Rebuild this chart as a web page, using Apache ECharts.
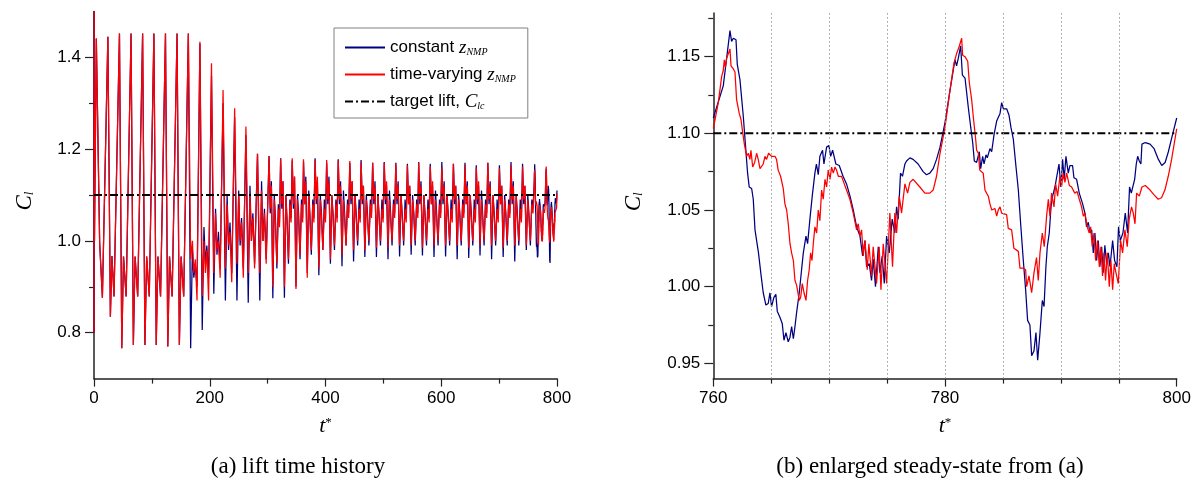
<!DOCTYPE html>
<html>
<head>
<meta charset="utf-8">
<script src="https://cdn.jsdelivr.net/npm/echarts@6.0.0/dist/echarts.min.js"></script>
<style>
  html, body { margin: 0; padding: 0; background: #fff; }
  #chart { width: 1195px; height: 485px; }
</style>
</head>
<body>
<div id="chart"></div>
<script>
// ---- data ----

// t* < 160: both runs are identical
const sharedT = [
  0, 0.2, 0.8, 4, 9.8, 14.5,
  24, 28.3, 31, 34.6,
  44, 48, 51, 55.5,
  64, 68, 71, 75.5,
  84, 88, 91, 95.5,
  103.5, 107.5, 110.5, 115,
  123.5, 127.5, 130.5, 135,
  143.5, 147.5, 150.5, 155
]
const sharedCl = [
  0.80, 1.50, 1.00, 1.441, 0.995, 0.876,
  1.445, 0.835, 0.967, 0.879,
  1.452, 0.766, 0.966, 0.879,
  1.452, 0.773, 0.966, 0.879,
  1.452, 0.773, 0.966, 0.879,
  1.452, 0.773, 0.966, 0.879,
  1.452, 0.770, 0.966, 0.879,
  1.452, 0.773, 0.966, 0.879
]

// t* 163 .. 758.5: runs diverge
const splitT = [
  163, 167, 170, 172.5, 175, 178,
  183, 187, 190, 192.5, 195, 198,
  203, 207, 210, 212.5, 215, 218,
  223, 227, 230, 232.5, 235, 238,
  243, 247, 250, 252.5, 255, 258,
  262.5, 266.5, 269.5, 272, 274.5, 277.5,
  282.5, 286.5, 289.5, 292, 294.5, 297.5,
  302.5, 304.5, 306.5, 309, 311.5, 313.5, 316, 318.5, 320.5,
  322.5, 324.5, 326.5, 329, 331.5, 333.5, 336, 338.5, 340.5,
  342.5, 344.5, 346.5, 349, 351.5, 353.5, 356, 358.5, 360.5,
  362, 364, 366, 368.5, 371, 373, 375.5, 378, 380,
  382, 384, 386, 388.5, 391, 393, 395.5, 398, 400,
  402, 404, 406, 408.5, 411, 413, 415.5, 418, 420,
  422, 424, 426, 428.5, 431, 433, 435.5, 438, 440,
  442, 444, 446, 448.5, 451, 453, 455.5, 458, 460,
  461.5, 463.5, 465.5, 468, 470.5, 472.5, 475, 477.5, 479.5,
  481.5, 483.5, 485.5, 488, 490.5, 492.5, 495, 497.5, 499.5,
  501.5, 503.5, 505.5, 508, 510.5, 512.5, 515, 517.5, 519.5,
  521.5, 523.5, 525.5, 528, 530.5, 532.5, 535, 537.5, 539.5,
  541.5, 543.5, 545.5, 548, 550.5, 552.5, 555, 557.5, 559.5,
  561, 563, 565, 567.5, 570, 572, 574.5, 577, 579,
  581, 583, 585, 587.5, 590, 592, 594.5, 597, 599,
  601, 603, 605, 607.5, 610, 612, 614.5, 617, 619,
  621, 623, 625, 627.5, 630, 632, 634.5, 637, 639,
  641, 643, 645, 647.5, 650, 652, 654.5, 657, 659,
  660.5, 662.5, 664.5, 667, 669.5, 671.5, 674, 676.5, 678.5,
  680.5, 682.5, 684.5, 687, 689.5, 691.5, 694, 696.5, 698.5,
  700.5, 702.5, 704.5, 707, 709.5, 711.5, 714, 716.5, 718.5,
  720.5, 722.5, 724.5, 727, 729.5, 731.5, 734, 736.5, 738.5,
  740.5, 742.5, 744.5, 747, 749.5, 751.5, 754, 756.5, 758.5
]
const varyingCl = [
  1.452, 0.96, 1.00, 0.93, 0.96, 0.87,
  1.434, 0.88, 1.00, 0.93, 0.98, 0.87,
  1.387, 0.93, 1.06, 0.98, 1.00, 0.92,
  1.329, 0.94, 1.08, 0.99, 1.02, 0.91,
  1.289, 0.95, 1.10, 1.00, 1.04, 0.92,
  1.249, 0.93, 1.10, 1.00, 1.05, 0.94,
  1.190, 0.93, 1.11, 1.00, 1.06, 0.95,
  1.185, 1.07, 1.12, 0.90, 1.09, 1.04, 0.95, 1.07, 1.03,
  1.180, 1.08, 1.13, 0.90, 1.10, 1.04, 0.96, 1.08, 1.04,
  1.180, 1.08, 1.14, 0.895, 1.09, 1.05, 0.97, 1.08, 1.04,
  1.178, 1.08, 1.13, 0.92, 1.10, 1.05, 0.98, 1.08, 1.04,
  1.176, 1.09, 1.14, 0.94, 1.09, 1.05, 0.98, 1.07, 1.04,
  1.176, 1.09, 1.13, 0.96, 1.10, 1.05, 0.99, 1.08, 1.04,
  1.175, 1.09, 1.12, 0.97, 1.09, 1.05, 0.99, 1.08, 1.05,
  1.174, 1.09, 1.13, 0.98, 1.10, 1.05, 1.00, 1.07, 1.04,
  1.172, 1.09, 1.12, 0.98, 1.09, 1.05, 1.00, 1.08, 1.05,
  1.170, 1.09, 1.12, 0.985, 1.10, 1.05, 1.00, 1.07, 1.04,
  1.170, 1.09, 1.13, 0.985, 1.09, 1.05, 1.00, 1.08, 1.05,
  1.168, 1.09, 1.12, 0.99, 1.10, 1.05, 1.00, 1.07, 1.04,
  1.165, 1.08, 1.12, 0.99, 1.09, 1.06, 1.00, 1.08, 1.05,
  1.170, 1.09, 1.12, 0.985, 1.10, 1.05, 1.00, 1.07, 1.04,
  1.163, 1.08, 1.13, 0.99, 1.09, 1.05, 1.00, 1.08, 1.05,
  1.160, 1.09, 1.12, 0.99, 1.10, 1.05, 1.00, 1.07, 1.04,
  1.168, 1.09, 1.12, 0.99, 1.09, 1.06, 1.00, 1.08, 1.05,
  1.165, 1.08, 1.12, 0.985, 1.10, 1.05, 1.00, 1.07, 1.04,
  1.160, 1.09, 1.13, 0.99, 1.09, 1.05, 1.00, 1.08, 1.05,
  1.170, 1.09, 1.12, 0.99, 1.10, 1.05, 1.00, 1.07, 1.04,
  1.158, 1.08, 1.12, 0.985, 1.09, 1.06, 1.00, 1.08, 1.05,
  1.165, 1.09, 1.12, 0.99, 1.10, 1.05, 1.00, 1.07, 1.04,
  1.162, 1.09, 1.12, 0.99, 1.09, 1.05, 1.00, 1.08, 1.06
]
const constantCl = [
  1.452, 0.766, 0.98, 0.92, 0.95, 0.90,
  1.430, 0.806, 1.03, 0.95, 0.99, 0.92,
  1.360, 0.885, 1.07, 0.97, 1.02, 0.94,
  1.300, 0.870, 1.10, 0.98, 1.04, 0.93,
  1.270, 0.870, 1.11, 0.99, 1.05, 0.94,
  1.230, 0.865, 1.12, 1.00, 1.06, 0.95,
  1.190, 0.870, 1.13, 1.00, 1.07, 0.96,
  1.185, 1.06, 1.13, 0.875, 1.10, 1.05, 0.94, 1.08, 1.04,
  1.180, 1.07, 1.13, 0.876, 1.10, 1.05, 0.95, 1.09, 1.05,
  1.175, 1.07, 1.14, 0.90, 1.10, 1.06, 0.96, 1.09, 1.05,
  1.172, 1.08, 1.14, 0.93, 1.11, 1.06, 0.97, 1.09, 1.05,
  1.180, 1.08, 1.13, 0.925, 1.10, 1.06, 0.98, 1.09, 1.05,
  1.170, 1.08, 1.14, 0.95, 1.10, 1.06, 0.98, 1.09, 1.05,
  1.178, 1.08, 1.13, 0.945, 1.11, 1.06, 0.99, 1.09, 1.06,
  1.170, 1.08, 1.13, 0.955, 1.10, 1.06, 0.99, 1.09, 1.05,
  1.176, 1.08, 1.12, 0.965, 1.10, 1.06, 0.99, 1.09, 1.06,
  1.170, 1.08, 1.13, 0.965, 1.10, 1.06, 0.99, 1.09, 1.05,
  1.172, 1.08, 1.12, 0.96, 1.11, 1.06, 0.99, 1.09, 1.06,
  1.170, 1.08, 1.13, 0.966, 1.10, 1.06, 0.99, 1.09, 1.05,
  1.168, 1.08, 1.12, 0.97, 1.10, 1.06, 0.99, 1.09, 1.06,
  1.172, 1.08, 1.13, 0.968, 1.10, 1.06, 0.99, 1.09, 1.05,
  1.168, 1.08, 1.12, 0.965, 1.11, 1.06, 0.99, 1.09, 1.06,
  1.172, 1.08, 1.13, 0.966, 1.10, 1.06, 0.99, 1.09, 1.05,
  1.168, 1.08, 1.12, 0.96, 1.10, 1.06, 0.99, 1.09, 1.06,
  1.170, 1.08, 1.13, 0.963, 1.10, 1.06, 0.99, 1.09, 1.05,
  1.165, 1.08, 1.12, 0.968, 1.11, 1.06, 0.99, 1.09, 1.06,
  1.170, 1.08, 1.13, 0.96, 1.10, 1.06, 0.99, 1.09, 1.05,
  1.165, 1.08, 1.12, 0.965, 1.10, 1.06, 0.99, 1.09, 1.06,
  1.172, 1.08, 1.13, 0.955, 1.10, 1.06, 0.99, 1.09, 1.05,
  1.168, 1.08, 1.12, 0.98, 1.10, 1.06, 0.99, 1.09, 1.07
]

// t* 760 .. 800 (panel b, also the tail of panel a)
const zoomConstant = [
  [760, 1.110], [760.86, 1.131], [761.44, 1.167], [761.58, 1.160], [761.73, 1.162], [761.96, 1.161],
  [762.07, 1.145], [762.3, 1.135], [762.59, 1.111], [762.79, 1.091], [762.96, 1.074], [763.1, 1.065],
  [763.31, 1.064], [763.45, 1.057], [763.6, 1.037], [763.9, 1.022], [764.13, 1.007], [764.31, 0.996],
  [764.54, 0.988], [764.74, 0.989], [764.89, 0.996], [765.03, 0.987], [765.23, 0.993], [765.4, 0.995],
  [765.52, 0.984], [765.75, 0.980], [765.95, 0.976], [766.1, 0.965], [766.27, 0.970], [766.47, 0.964],
  [766.62, 0.967], [766.76, 0.974], [766.91, 0.966], [767.05, 0.974], [767.19, 0.983], [767.42, 0.996],
  [767.62, 1.011], [767.77, 1.022], [768.0, 1.033], [768.14, 1.028], [768.34, 1.044], [768.54, 1.059],
  [768.77, 1.074], [768.9, 1.080], [769.06, 1.073], [769.2, 1.085], [769.43, 1.089], [769.55, 1.080],
  [769.78, 1.091], [769.98, 1.092], [770.13, 1.085], [770.3, 1.089], [770.44, 1.088], [770.58, 1.080],
  [770.7, 1.080], [770.87, 1.079], [771.0, 1.078], [771.2, 1.072], [771.5, 1.067], [771.8, 1.059],
  [772.08, 1.050], [772.37, 1.039], [772.66, 1.033], [772.89, 1.020], [773.09, 1.030], [773.23, 1.013],
  [773.46, 1.015], [773.66, 1.004], [773.8, 1.018], [774.0, 1.000], [774.24, 1.026], [774.38, 1.009],
  [774.58, 1.020], [774.76, 1.002], [774.96, 1.033], [775.19, 1.022], [775.44, 1.044], [775.67, 1.035],
  [775.82, 1.052], [775.96, 1.044], [776.16, 1.074], [776.33, 1.072], [776.54, 1.080], [776.68, 1.082],
  [776.97, 1.084], [777.25, 1.083], [777.68, 1.080], [778.11, 1.075], [778.4, 1.073], [778.69, 1.074],
  [778.98, 1.077], [779.27, 1.083], [779.57, 1.091], [780.0, 1.107], [780.43, 1.128], [780.86, 1.148],
  [781.0, 1.144], [781.15, 1.149], [781.35, 1.157], [781.5, 1.138], [781.73, 1.136], [782.01, 1.117],
  [782.22, 1.104], [782.39, 1.094], [782.53, 1.082], [782.73, 1.081], [782.96, 1.088], [783.08, 1.077],
  [783.25, 1.085], [783.37, 1.080], [783.54, 1.086], [783.65, 1.084], [783.88, 1.090], [784.03, 1.088],
  [784.23, 1.099], [784.46, 1.108], [784.75, 1.113], [784.89, 1.120], [785.04, 1.116], [785.32, 1.116],
  [785.52, 1.112], [785.69, 1.104], [785.9, 1.096], [786.13, 1.078], [786.33, 1.063], [786.53, 1.041],
  [786.76, 1.017], [786.96, 0.998], [787.13, 0.978], [787.33, 0.975], [787.48, 0.955], [787.68, 0.958],
  [787.85, 0.970], [788.0, 0.952], [788.2, 0.970], [788.4, 0.991], [788.55, 0.987], [788.71, 1.013],
  [788.83, 1.026], [789.0, 1.035], [789.15, 1.052], [789.29, 1.059], [789.49, 1.065], [789.7, 1.074],
  [789.84, 1.080], [790.0, 1.065], [790.15, 1.083], [790.29, 1.070], [790.44, 1.085], [790.64, 1.074],
  [790.78, 1.079], [791.01, 1.079], [791.13, 1.071], [791.36, 1.070], [791.59, 1.061], [791.88, 1.054],
  [792.08, 1.048], [792.22, 1.039], [792.37, 1.042], [792.51, 1.035], [792.66, 1.037], [792.8, 1.022],
  [792.94, 1.035], [793.09, 1.017], [793.23, 1.030], [793.37, 1.013], [793.52, 1.026], [793.66, 1.009],
  [793.8, 1.027], [793.95, 1.015], [794.1, 1.022], [794.24, 1.013], [794.47, 1.030], [794.64, 1.017],
  [794.84, 1.013], [794.98, 1.039], [795.13, 1.030], [795.36, 1.035], [795.56, 1.048], [795.76, 1.035],
  [795.93, 1.065], [796.08, 1.061], [796.22, 1.061], [796.37, 1.070], [796.51, 1.080], [796.63, 1.085],
  [796.77, 1.082], [796.91, 1.080], [797.0, 1.093], [797.29, 1.094], [797.7, 1.093], [798.05, 1.090],
  [798.42, 1.083], [798.71, 1.079], [799.0, 1.081], [799.28, 1.088], [799.57, 1.097], [800.0, 1.110]
]
const zoomVarying = [
  [760.0, 1.103], [760.43, 1.120], [760.72, 1.137], [760.86, 1.141], [760.95, 1.148], [761.04, 1.143],
  [761.15, 1.149], [761.3, 1.152], [761.44, 1.155], [761.53, 1.144], [761.73, 1.142], [761.87, 1.140],
  [762.01, 1.122], [762.24, 1.113], [762.39, 1.109], [762.53, 1.101], [762.68, 1.093], [762.79, 1.092],
  [762.88, 1.085], [763.02, 1.087], [763.16, 1.083], [763.25, 1.089], [763.4, 1.078], [763.57, 1.081],
  [763.74, 1.087], [763.88, 1.083], [764.03, 1.077], [764.17, 1.077], [764.31, 1.080], [764.46, 1.085],
  [764.6, 1.083], [764.77, 1.087], [764.89, 1.087], [765.03, 1.085], [765.32, 1.085], [765.46, 1.083],
  [765.6, 1.076], [765.81, 1.072], [766.04, 1.064], [766.18, 1.054], [766.33, 1.050], [766.47, 1.041],
  [766.62, 1.028], [766.76, 1.022], [766.91, 1.017], [767.05, 1.004], [767.19, 1.001], [767.33, 1.002],
  [767.42, 0.991], [767.54, 0.993], [767.68, 1.002], [767.83, 0.996], [768.0, 0.991], [768.14, 1.004],
  [768.28, 1.011], [768.4, 1.022], [768.52, 1.017], [768.63, 1.028], [768.77, 1.039], [768.92, 1.035],
  [769.06, 1.050], [769.2, 1.043], [769.35, 1.063], [769.49, 1.057], [769.64, 1.070], [769.78, 1.065],
  [769.92, 1.076], [770.07, 1.070], [770.21, 1.078], [770.36, 1.074], [770.5, 1.078], [770.64, 1.076],
  [770.79, 1.072], [770.93, 1.073], [771.07, 1.072], [771.21, 1.069], [771.5, 1.063], [771.79, 1.057],
  [772.08, 1.048], [772.37, 1.037], [772.51, 1.041], [772.66, 1.033], [772.8, 1.037], [772.94, 1.020],
  [773.09, 1.030], [773.29, 1.011], [773.43, 1.028], [773.66, 1.007], [773.8, 1.026], [774.09, 1.002],
  [774.32, 1.026], [774.47, 0.998], [774.67, 1.028], [774.96, 1.002], [775.24, 1.048], [775.47, 1.013],
  [775.67, 1.048], [775.82, 1.035], [776.05, 1.059], [776.25, 1.048], [776.54, 1.067], [776.77, 1.061],
  [776.97, 1.068], [777.25, 1.070], [777.83, 1.065], [778.26, 1.061], [778.69, 1.061], [778.98, 1.063],
  [779.27, 1.072], [779.57, 1.087], [780.0, 1.104], [780.43, 1.128], [780.78, 1.146], [781.0, 1.152],
  [781.24, 1.157], [781.44, 1.162], [781.52, 1.151], [781.73, 1.150], [781.96, 1.147], [782.1, 1.133],
  [782.3, 1.122], [782.44, 1.111], [782.65, 1.096], [782.73, 1.089], [782.88, 1.087], [783.0, 1.076],
  [783.16, 1.075], [783.3, 1.074], [783.45, 1.063], [783.59, 1.061], [783.74, 1.059], [783.88, 1.054],
  [784.03, 1.050], [784.17, 1.050], [784.31, 1.051], [784.46, 1.046], [784.6, 1.050], [784.75, 1.052],
  [784.89, 1.048], [785.04, 1.047], [785.32, 1.047], [785.46, 1.038], [785.75, 1.037], [785.95, 1.025],
  [786.33, 1.023], [786.47, 1.012], [786.76, 1.012], [786.96, 1.011], [787.05, 1.000], [787.25, 1.007],
  [787.48, 0.996], [787.68, 1.009], [787.9, 1.019], [788.05, 1.004], [788.2, 1.022], [788.4, 1.035],
  [788.57, 1.026], [788.77, 1.046], [788.92, 1.057], [789.06, 1.046], [789.2, 1.061], [789.41, 1.052],
  [789.55, 1.067], [789.72, 1.059], [789.92, 1.072], [790.06, 1.065], [790.2, 1.074], [790.35, 1.068],
  [790.5, 1.074], [790.73, 1.066], [790.93, 1.065], [791.2, 1.061], [791.41, 1.062], [791.59, 1.057],
  [791.79, 1.052], [791.94, 1.046], [792.08, 1.048], [792.28, 1.039], [792.45, 1.035], [792.57, 1.039],
  [792.71, 1.026], [792.86, 1.035], [793.0, 1.017], [793.17, 1.030], [793.32, 1.013], [793.46, 1.026],
  [793.6, 1.007], [793.72, 1.022], [793.86, 1.004], [794.01, 1.022], [794.18, 1.000], [794.32, 1.017],
  [794.47, 0.998], [794.61, 1.015], [794.76, 1.009], [794.96, 1.002], [795.16, 1.030], [795.33, 1.022],
  [795.53, 1.037], [795.73, 1.026], [795.9, 1.044], [796.1, 1.052], [796.25, 1.048], [796.4, 1.041],
  [796.54, 1.061], [796.77, 1.059], [797.0, 1.065], [797.29, 1.066], [797.7, 1.063], [798.03, 1.060],
  [798.4, 1.057], [798.69, 1.058], [798.98, 1.063], [799.27, 1.072], [799.56, 1.083], [800.0, 1.103]
]

const TARGET = 1.1
const GRID_T = [765, 770, 775, 780, 785, 790, 795]          // dotted verticals in (b)
const LEFT_Y_MAJOR = [0.8, 1.0, 1.2, 1.4]
const LEFT_Y_MINOR = [0.9, 1.1, 1.3]
const RIGHT_Y_MAJOR = [0.95, 1.00, 1.05, 1.10, 1.15]
const RIGHT_Y_MINOR = [0.975, 1.025, 1.075, 1.125, 1.175]

// ---- styling ----
const SANS  = '"Liberation Sans", Arial, sans-serif'
const SERIF = '"Liberation Serif", "Times New Roman", serif'
const COLORS = {
  constant: '#000080',
  varying:  '#ff0000',
  target:   '#000000',
  axis:     '#222222',
  grid:     '#9a9a9a',
}

const zip = (ts, vs) => ts.map((t, i) => [t, vs[i]])
const leftConstant = zip(sharedT, sharedCl).concat(zip(splitT, constantCl), zoomConstant)
const leftVarying  = zip(sharedT, sharedCl).concat(zip(splitT, varyingCl), zoomVarying)

const axisLine = { show: true, onZero: false, lineStyle: { color: COLORS.axis, width: 1.5 } }
const tickLine = { color: COLORS.axis, width: 1.2 }
const labelStyle = { color: '#000', fontFamily: SANS, fontSize: 17 }

const nameRichY = {
  c: { fontFamily: SERIF, fontStyle: 'italic', fontSize: 23, color: '#000' },
  s: { fontFamily: SERIF, fontStyle: 'italic', fontSize: 13, color: '#000', verticalAlign: 'bottom', lineHeight: 12 },
}
const nameRichX = {
  t: { fontFamily: SERIF, fontStyle: 'italic', fontSize: 22, color: '#000' },
  s: { fontFamily: SERIF, fontSize: 13, color: '#000', verticalAlign: 'top', lineHeight: 10 },
}

function xAxisCfg(grid, min, max, interval, minorSplit) {
  return {
    gridIndex: grid, type: 'value', position: 'bottom', min, max, interval,
    axisLine,
    axisTick: { show: true, length: 8, lineStyle: tickLine },
    minorTick: { show: true, splitNumber: minorSplit, length: 5, lineStyle: tickLine },
    axisLabel: { ...labelStyle, margin: 11 },
    splitLine: { show: false },
    name: '{t|t}{s|*}', nameLocation: 'middle', nameGap: 37,
    nameTextStyle: { rich: nameRichX },
  }
}
function yAxisMajor(grid, min, max, values, digits, nameGap) {
  return {
    gridIndex: grid, type: 'value', position: 'left', min, max,
    axisLine,
    axisTick: { show: true, length: 9, customValues: values, lineStyle: tickLine },
    axisLabel: { ...labelStyle, margin: 13, customValues: values, formatter: v => v.toFixed(digits) },
    splitLine: { show: false },
    name: '{c|C}{s|l}', nameLocation: 'middle', nameGap,
    nameTextStyle: { rich: nameRichY, padding: [0, 12, 0, 0] },
  }
}
function yAxisMinor(grid, min, max, values) {
  return {
    gridIndex: grid, type: 'value', position: 'left', offset: 0, min, max,
    axisLine: { show: false },
    axisTick: { show: true, length: 5, customValues: values, lineStyle: tickLine },
    axisLabel: { show: false },
    splitLine: { show: false },
  }
}
function lineSeries(name, color, data, xi, yi, z, extra) {
  return {
    name, type: 'line', xAxisIndex: xi, yAxisIndex: yi, data,
    symbol: 'none', showSymbol: false, z,
    lineStyle: { color, width: 1.25 }, itemStyle: { color },
    ...extra,
  }
}
const targetStyle = { lineStyle: { color: COLORS.target, width: 2, type: [8, 3, 2, 3] } }
const captionFont = '23px "Liberation Serif", "Times New Roman", serif'

const option = {
  animation: false,
  backgroundColor: '#fff',
  grid: [
    { left: 94, top: 11.4, width: 463, height: 367.2 },
    { left: 713.3, top: 13, width: 463.4, height: 365.6 },
  ],
  xAxis: [
    xAxisCfg(0, 0, 800, 200, 2),
    xAxisCfg(1, 760, 800, 20, 4),
  ],
  yAxis: [
    yAxisMajor(0, 0.7, 1.5, LEFT_Y_MAJOR, 1, 58),
    yAxisMinor(0, 0.7, 1.5, LEFT_Y_MINOR),
    yAxisMajor(1, 0.94, 1.1785, RIGHT_Y_MAJOR, 2, 68),
    yAxisMinor(1, 0.94, 1.1785, RIGHT_Y_MINOR),
  ],
  legend: {
    data: ['constant', 'time-varying', 'target'],
    orient: 'vertical', left: 334, top: 28,
    itemWidth: 40, itemHeight: 14, itemGap: 8,
    padding: [10, 12, 7, 10],
    borderColor: '#808080', borderWidth: 1, backgroundColor: '#fff',
    selectedMode: false,
    itemStyle: { opacity: 0, borderWidth: 0 },
    textStyle: {
      fontFamily: SANS, fontSize: 17, color: '#000',
      rich: {
        z:   { fontFamily: SERIF, fontStyle: 'italic', fontSize: 19, color: '#000' },
        sub: { fontFamily: SERIF, fontStyle: 'italic', fontSize: 10, color: '#000', verticalAlign: 'bottom', lineHeight: 8 },
      },
    },
    formatter: n => ({
      'constant':     'constant {z|z}{sub|NMP}',
      'time-varying': 'time-varying {z|z}{sub|NMP}',
      'target':       'target lift, {z|C}{sub|lc}',
    }[n]),
  },
  graphic: [
    { type: 'text', x: 298, y: 467, style: { text: '(a) lift time history', align: 'center', verticalAlign: 'middle', font: captionFont, fill: '#000' } },
    { type: 'text', x: 930, y: 467, style: { text: '(b) enlarged steady-state from (a)', align: 'center', verticalAlign: 'middle', font: captionFont, fill: '#000' } },
  ],
  series: [
    lineSeries('constant',     COLORS.constant, leftConstant, 0, 0, 2),
    lineSeries('time-varying', COLORS.varying,  leftVarying,  0, 0, 3),
    lineSeries('target',       COLORS.target,   [[0, TARGET], [800, TARGET]], 0, 0, 4, targetStyle),
    {
      name: 'grid', type: 'line', xAxisIndex: 1, yAxisIndex: 2, data: [], z: 1, silent: true,
      markLine: {
        silent: true, symbol: 'none', label: { show: false },
        lineStyle: { color: COLORS.grid, width: 1, type: [1.5, 2.5] },
        data: GRID_T.map(v => ({ xAxis: v })),
      },
    },
    lineSeries('constant',     COLORS.constant, zoomConstant, 1, 2, 2),
    lineSeries('time-varying', COLORS.varying,  zoomVarying,  1, 2, 3),
    lineSeries('target',       COLORS.target,   [[760, TARGET], [800, TARGET]], 1, 2, 4, targetStyle),
  ],
}

const chart = echarts.init(document.getElementById('chart'), null, { renderer: 'canvas' })
chart.setOption(option)
</script>
</body>
</html>
